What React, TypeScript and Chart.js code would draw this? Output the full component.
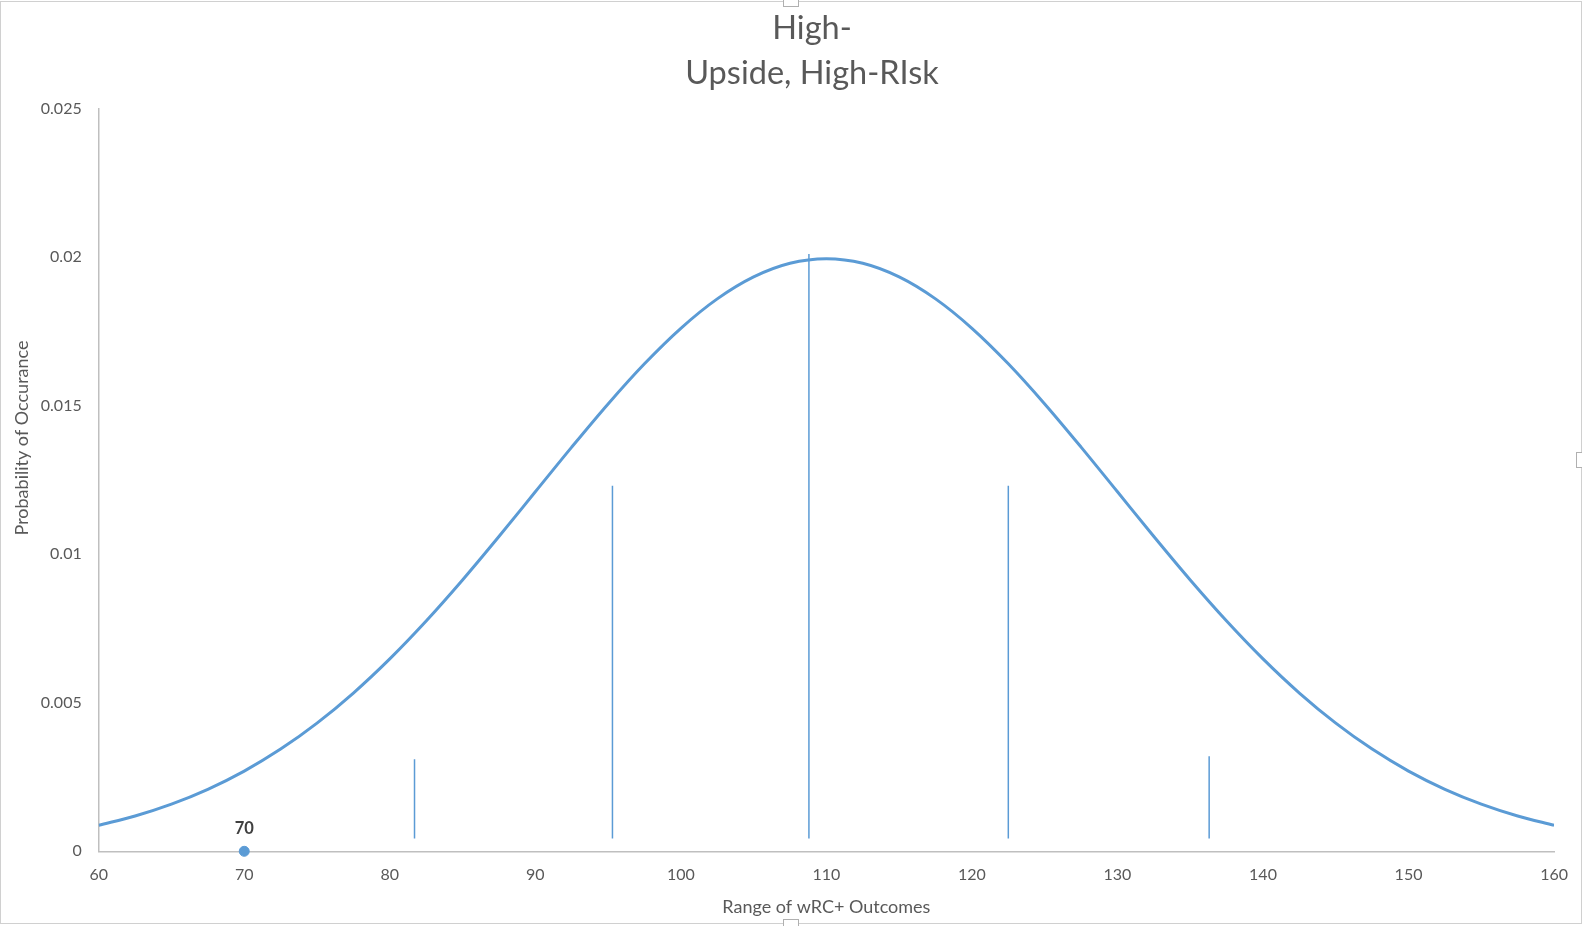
import React, { useEffect, useRef } from "react";
import { Chart, registerables } from "chart.js";

Chart.register(...registerables);

// bell curve, every 2.5 wRC+
const curveX = [
  60, 62.5, 65, 67.5, 70, 72.5, 75, 77.5, 80, 82.5, 85, 87.5, 90, 92.5, 95, 97.5,
  100, 102.5, 105, 107.5, 110, 112.5, 115, 117.5, 120, 122.5, 125, 127.5, 130,
  132.5, 135, 137.5, 140, 142.5, 145, 147.5, 150, 152.5, 155, 157.5, 160,
];
const curveY = [
  0.000876, 0.001188, 0.001587, 0.002086, 0.0027, 0.003439, 0.004314, 0.005327,
  0.006476, 0.007751, 0.009132, 0.010594, 0.012099, 0.013603, 0.015057,
  0.016408, 0.017603, 0.018593, 0.019333, 0.019792, 0.019947, 0.019792,
  0.019333, 0.018593, 0.017603, 0.016408, 0.015057, 0.013603, 0.012099,
  0.010594, 0.009132, 0.007751, 0.006476, 0.005327, 0.004314, 0.003439,
  0.0027, 0.002086, 0.001587, 0.001188, 0.000876,
];

// vertical marker lines
const markerX = [81.7, 95.3, 108.8, 122.5, 136.3];
const markerTop = [0.0031, 0.0123, 0.0201, 0.0123, 0.0032];
const markerBase = 0.00043;

// single highlighted point
const pointX = [70];
const pointY = [0];

const yTicks = [0, 0.005, 0.01, 0.015, 0.02, 0.025];

const BLUE = "#5b9bd5";
const TEXT = "#595959";
const FONT = "Lato, 'Open Sans', sans-serif";

const textPlugin = {
  id: "extraText",
  afterDatasetsDraw(chart: any) {
    const { ctx } = chart;
    ctx.save();
    // chart title
    ctx.fillStyle = TEXT;
    ctx.font = `32.5px ${FONT}`;
    ctx.textAlign = "center";
    ctx.textBaseline = "alphabetic";
    ctx.fillText("High-", 812, 38.5);
    ctx.fillText("Upside, High-RIsk", 812, 83.5);

    // y axis title
    ctx.save();
    ctx.translate(22, 438);
    ctx.rotate(-Math.PI / 2);
    ctx.font = `18px ${FONT}`;
    ctx.textBaseline = "middle";
    ctx.fillText("Probability of Occurance", 0, 0);
    ctx.restore();

    // label over the point
    const meta = chart.getDatasetMeta(chart.data.datasets.length - 1);
    meta.data.forEach((el: any, i: number) => {
      ctx.fillStyle = "#404040";
      ctx.font = `bold 16.5px ${FONT}`;
      ctx.textAlign = "center";
      ctx.textBaseline = "alphabetic";
      ctx.fillText(String(pointX[i]), el.x, el.y - 17);
    });
    ctx.restore();
  },
};

const App = () => {
  const canvasRef = useRef<HTMLCanvasElement | null>(null);

  useEffect(() => {
    document.body.style.margin = "0";
    if (!canvasRef.current) return;
    const ctx = canvasRef.current.getContext("2d");
    if (!ctx) return;

    const markerSets = markerX.map((x, i) => ({
      type: "line" as const,
      data: [
        { x, y: markerBase },
        { x, y: markerTop[i] },
      ],
      borderColor: BLUE,
      borderWidth: 1.5,
      pointRadius: 0,
      tension: 0,
    }));

    const chart = new Chart(ctx, {
      type: "line",
      data: {
        datasets: [
          {
            data: curveX.map((x, i) => ({ x, y: curveY[i] })),
            borderColor: BLUE,
            borderWidth: 3,
            pointRadius: 0,
            cubicInterpolationMode: "monotone",
          },
          ...markerSets,
          {
            data: pointX.map((x, i) => ({ x, y: pointY[i] })),
            showLine: false,
            pointRadius: 5,
            pointBackgroundColor: BLUE,
            pointBorderColor: BLUE,
            clip: false,
          } as any,
        ],
      },
      options: {
        responsive: false,
        animation: false,
        layout: { padding: { top: 108.5, right: 26, bottom: 0, left: 0 } },
        plugins: {
          legend: { display: false },
          tooltip: { enabled: false },
          title: { display: false },
        },
        scales: {
          x: {
            type: "linear",
            min: 60,
            max: 160,
            grid: { display: false, drawTicks: false },
            border: { display: true, color: "#bfbfbf", width: 1.5 },
            ticks: {
              stepSize: 10,
              padding: 14,
              color: TEXT,
              font: { family: FONT, size: 16 },
            },
            title: {
              display: true,
              text: "Range of wRC+ Outcomes",
              color: TEXT,
              font: { family: FONT, size: 18 },
              padding: { top: 0, bottom: 8.5 },
            },
            afterFit: (scale: any) => {
              scale.height = 74.7;
            },
          },
          y: {
            min: 0,
            max: 0.025,
            grid: { display: false, drawTicks: false },
            border: { display: true, color: "#bfbfbf", width: 1.5 },
            afterBuildTicks: (scale: any) => {
              scale.ticks = yTicks.map((v) => ({ value: v }));
            },
            ticks: {
              padding: 17,
              color: TEXT,
              font: { family: FONT, size: 16 },
              callback: (v: any) => String(Number(Number(v).toFixed(3))),
            },
            afterFit: (scale: any) => {
              scale.width = 98.7;
            },
          },
        },
      },
      plugins: [textPlugin],
    });

    return () => {
      chart.destroy();
    };
  }, []);

  return (
    <div style={{ position: "relative", width: 1582, height: 926 }}>
      <canvas
        ref={canvasRef}
        width={1582}
        height={926}
        style={{ position: "absolute", left: 0, top: 0 }}
      />
      <div
        style={{
          position: "absolute",
          left: 0,
          top: 1,
          width: 1580,
          height: 921,
          border: "1px solid #d0d0d0",
          pointerEvents: "none",
        }}
      />
      <div
        style={{
          position: "absolute",
          left: 783,
          top: 0,
          width: 14,
          height: 6,
          background: "#fff",
          border: "1px solid #b0b0b0",
          borderTop: "none",
        }}
      />
      <div
        style={{
          position: "absolute",
          left: 1576,
          top: 452,
          width: 6,
          height: 14,
          background: "#fff",
          border: "1px solid #b0b0b0",
          borderRight: "none",
        }}
      />
      <div
        style={{
          position: "absolute",
          left: 783,
          top: 919,
          width: 14,
          height: 7,
          background: "#fff",
          border: "1px solid #b0b0b0",
          borderBottom: "none",
        }}
      />
    </div>
  );
};

export default App;
